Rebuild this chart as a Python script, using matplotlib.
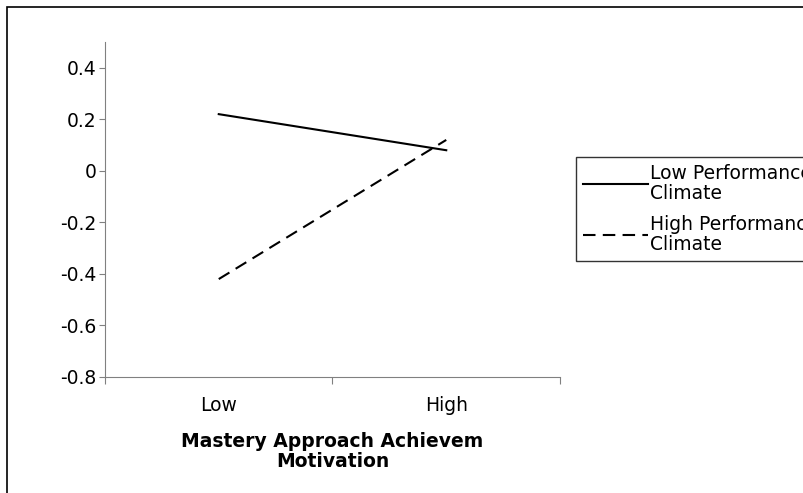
import matplotlib.pyplot as plt
from matplotlib.patches import Rectangle

categories = ["Low", "High"]
low_perf = [0.22, 0.08]
high_perf = [-0.42, 0.12]
y_ticks = [-0.8, -0.6, -0.4, -0.2, 0, 0.2, 0.4]
y_labels = ["-0.8", "-0.6", "-0.4", "-0.2", "0", "0.2", "0.4"]

W, H = 804, 493
FS = 13.5
fig = plt.figure(figsize=(W / 100, H / 100), dpi=100)
fig.patch.set_facecolor("white")

# outer chart border (cut off at right and bottom)
fig.patches.append(Rectangle((7 / W, -0.1), 1.2, 1.1 - 7 / H, transform=fig.transFigure,
                             fill=False, edgecolor="black", linewidth=1.2))

ax = fig.add_axes([105 / W, 1 - 377 / H, (560 - 105) / W, (377 - 42) / H])
x = range(len(categories))
ax.plot(x, low_perf, color="black", linewidth=1.5, label="Low Performance\nClimate")
ax.plot(x, high_perf, color="black", linewidth=1.5, linestyle=(0, (6, 3.5)),
        label="High Performance\nClimate")

ax.set_xlim(-0.5, 1.5)
ax.set_ylim(-0.8, 0.5)
ax.set_yticks(y_ticks)
ax.set_yticklabels(y_labels, fontsize=FS)
ax.set_xticks([-0.5, 0.5, 1.5])
ax.set_xticklabels([])
ax.set_xticks([0, 1], minor=True)
ax.set_xticklabels(categories, minor=True, fontsize=FS)
ax.tick_params(axis="x", which="major", length=5, color="#808080")
ax.tick_params(axis="x", which="minor", length=0, pad=14)
ax.tick_params(axis="y", length=4, color="#808080", pad=2)

for s in ["top", "right"]:
    ax.spines[s].set_visible(False)
for s in ["left", "bottom"]:
    ax.spines[s].set_color("#808080")

ax.set_xlabel("Mastery Approach Achievem\nMotivation", fontsize=FS, fontweight="bold",
              labelpad=12, linespacing=1.05)

leg = fig.legend(loc="upper left", bbox_to_anchor=(576 / W, 1 - 157 / H), fontsize=FS,
                 frameon=True, fancybox=False, edgecolor="black", handlelength=3.5,
                 handletextpad=0.1, borderpad=0.35, labelspacing=0.6, borderaxespad=0)
leg.get_frame().set_linewidth(1.0)
for t in leg.get_texts():
    t.set_linespacing(1.12)

fig.savefig("out.png", dpi=100)
